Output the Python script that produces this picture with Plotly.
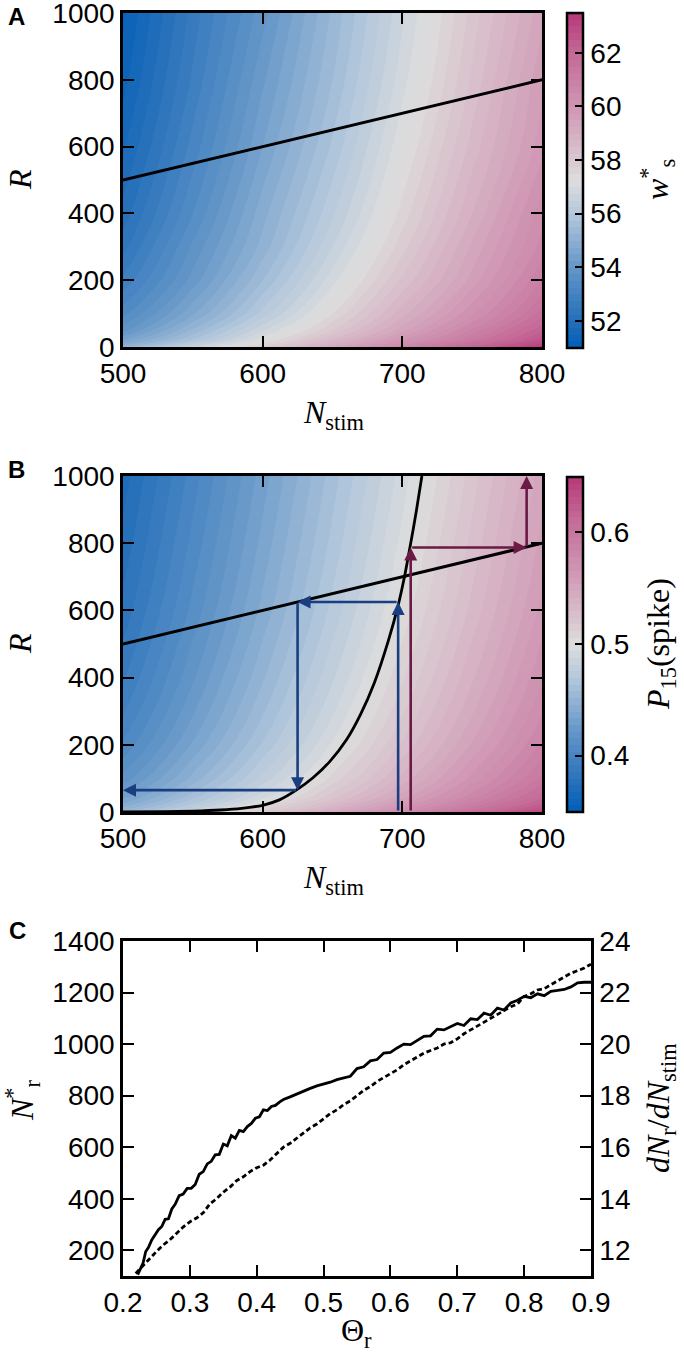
import plotly.graph_objects as go

# ---------------- data ----------------
N_GRID = [500, 550, 600, 650, 700, 750, 800]
R_GRID = [0, 10, 25, 50, 100, 200, 300, 400, 600, 800, 1000]

WS_VALUES = [
    [55.2, 56.6, 57.9, 59.3, 60.7, 62.1, 63.4],
    [54.8, 56.2, 57.5, 58.9, 60.3, 61.7, 63.0],
    [54.4, 55.7, 57.1, 58.5, 59.9, 61.2, 62.6],
    [53.9, 55.3, 56.7, 58.0, 59.4, 60.8, 62.2],
    [53.4, 54.7, 56.1, 57.5, 58.9, 60.2, 61.6],
    [52.8, 54.1, 55.5, 56.9, 58.3, 59.6, 61.0],
    [52.4, 53.8, 55.1, 56.5, 57.9, 59.3, 60.6],
    [52.1, 53.5, 54.9, 56.2, 57.6, 59.0, 60.4],
    [51.7, 53.1, 54.5, 55.8, 57.2, 58.6, 59.9],
    [51.4, 52.8, 54.2, 55.5, 56.9, 58.3, 59.7],
    [51.2, 52.6, 53.9, 55.3, 56.7, 58.1, 59.4],
]

P15_VALUES = [
    [0.458, 0.488, 0.518, 0.548, 0.578, 0.608, 0.638],
    [0.449, 0.479, 0.509, 0.539, 0.569, 0.599, 0.629],
    [0.440, 0.470, 0.500, 0.530, 0.560, 0.590, 0.620],
    [0.430, 0.460, 0.490, 0.520, 0.550, 0.580, 0.610],
    [0.418, 0.448, 0.478, 0.508, 0.538, 0.568, 0.598],
    [0.405, 0.435, 0.465, 0.495, 0.525, 0.555, 0.585],
    [0.397, 0.427, 0.457, 0.487, 0.517, 0.547, 0.577],
    [0.391, 0.421, 0.451, 0.481, 0.511, 0.541, 0.571],
    [0.382, 0.412, 0.442, 0.472, 0.502, 0.532, 0.562],
    [0.376, 0.406, 0.436, 0.466, 0.496, 0.526, 0.556],
    [0.371, 0.401, 0.431, 0.461, 0.491, 0.521, 0.551],
]

WS_TICKS = [52, 54, 56, 58, 60, 62]
P15_TICKS = [0.4, 0.5, 0.6]

LINE_N = [500, 800]
LINE_R = [500, 800]

CURVE_N = [500, 530, 550, 570, 585, 600, 612, 624, 636, 648, 660, 670, 680, 690, 697, 702, 706, 710, 714]
CURVE_R = [0, 0.8, 2.5, 6, 11, 20, 36, 65, 102, 150, 215, 290, 385, 510, 615, 710, 800, 895, 1000]

BLUE_N = [697, 697, 625, 625, 500]
BLUE_R = [0, 625, 625, 65, 65]
MAROON_N = [706, 706, 789, 789]
MAROON_R = [0, 787, 787, 1000]

THETA_SOLID = [0.222, 0.226, 0.230, 0.234, 0.238, 0.243, 0.248, 0.253, 0.258, 0.263, 0.268, 0.273,
               0.278, 0.284, 0.290, 0.296, 0.302, 0.308, 0.314, 0.320, 0.326, 0.332, 0.338, 0.344,
               0.350, 0.356, 0.362, 0.368, 0.374, 0.380, 0.386, 0.392, 0.398, 0.404, 0.410, 0.416,
               0.422, 0.428, 0.434, 0.440, 0.450, 0.460, 0.470, 0.480, 0.490, 0.500, 0.510, 0.520,
               0.530, 0.540, 0.550, 0.560, 0.570, 0.580, 0.590, 0.600, 0.610, 0.620, 0.630, 0.640,
               0.650, 0.660, 0.670, 0.680, 0.690, 0.700, 0.710, 0.720, 0.730, 0.740, 0.750, 0.760,
               0.770, 0.780, 0.790, 0.800, 0.810, 0.820, 0.830, 0.840, 0.850, 0.860, 0.870, 0.880,
               0.890, 0.900]
NR_SOLID = [105, 130, 150, 195, 210, 240, 262, 280, 292, 320, 322, 360,
            378, 412, 418, 440, 440, 455, 495, 505, 535, 545, 570, 572,
            612, 605, 645, 635, 665, 660, 680, 692, 712, 718, 745, 742,
            758, 762, 775, 785, 795, 805, 815, 828, 838, 845, 852, 862,
            870, 875, 905, 912, 935, 940, 965, 968, 985, 1000, 998, 1015,
            1030, 1032, 1058, 1055, 1068, 1080, 1072, 1098, 1095, 1120, 1112, 1140,
            1132, 1160, 1170, 1185, 1180, 1195, 1188, 1205, 1208, 1212, 1222, 1238,
            1240, 1240]

THETA_DASH = [0.219, 0.23, 0.24, 0.25, 0.26, 0.27, 0.28, 0.29, 0.30, 0.31, 0.32, 0.33, 0.34, 0.35,
              0.36, 0.37, 0.38, 0.39, 0.40, 0.41, 0.42, 0.43, 0.44, 0.45, 0.46, 0.47, 0.48, 0.49,
              0.50, 0.51, 0.52, 0.53, 0.54, 0.55, 0.56, 0.57, 0.58, 0.59, 0.60, 0.61, 0.62, 0.63,
              0.64, 0.65, 0.66, 0.67, 0.68, 0.69, 0.70, 0.71, 0.72, 0.73, 0.74, 0.75, 0.76, 0.77,
              0.78, 0.79, 0.80, 0.81, 0.82, 0.83, 0.84, 0.85, 0.86, 0.87, 0.88, 0.89, 0.90]
DNR_DASH = [11.1, 11.4, 11.7, 11.95, 12.2, 12.4, 12.65, 12.9, 13.1, 13.25, 13.45, 13.8, 14.0, 14.25,
            14.45, 14.7, 14.85, 15.05, 15.2, 15.3, 15.5, 15.75, 16.0, 16.15, 16.35, 16.55, 16.75, 16.9,
            17.1, 17.3, 17.45, 17.65, 17.8, 18.0, 18.2, 18.35, 18.55, 18.7, 18.85, 19.0, 19.2, 19.35,
            19.5, 19.65, 19.75, 19.85, 20.0, 20.05, 20.2, 20.4, 20.55, 20.7, 20.85, 21.0, 21.15, 21.3,
            21.45, 21.55, 21.85, 21.95, 22.1, 22.15, 22.3, 22.45, 22.6, 22.75, 22.85, 22.95, 23.1]

# ---------------- style ----------------
W, H = 684, 1357
CS = [
    [0.0, "rgb(0,94,184)"],
    [0.08, "rgb(35,110,186)"],
    [0.24, "rgb(100,150,200)"],
    [0.40, "rgb(180,200,220)"],
    [0.50, "rgb(221,221,221)"],
    [0.56, "rgb(218,200,208)"],
    [0.72, "rgb(208,150,180)"],
    [0.88, "rgb(196,105,150)"],
    [1.0, "rgb(183,55,120)"],
]
TICKFONT = dict(family="Liberation Sans", size=28, color="black")
SERIF = "Liberation Serif"
BLUE = "#1a3f80"
MAROON = "#6b1a45"

def px_x(x):
    return x / W

def px_y(y):
    return 1 - y / H

XD = [px_x(123), px_x(542)]
XD3 = [px_x(123), px_x(591)]
YA = [px_y(347), px_y(13)]
YB = [px_y(812), px_y(476)]
YC = [px_y(1276), px_y(941)]

axis_style = dict(showline=True, linecolor="black", linewidth=2.5, ticks="inside",
                  ticklen=11, tickwidth=1.5, tickcolor="black", tickfont=TICKFONT,
                  showgrid=False, zeroline=False, automargin=False, ticklabeloverflow="allow")

def cbar(ticks, ymid, fmt):
    return dict(x=px_x(567), xanchor="left", xpad=0, y=px_y(ymid), yanchor="middle", ypad=0,
                len=335 / H, lenmode="fraction", thickness=16, outlinewidth=2.5,
                outlinecolor="black", ticks="inside", ticklen=9, tickwidth=1.5,
                tickcolor="black", tickvals=ticks, tickformat=fmt, tickfont=TICKFONT,
                tickprefix="\u00a0")

fig = go.Figure()

fig.add_trace(go.Contour(
    x=N_GRID, y=R_GRID, z=WS_VALUES, colorscale=CS, zmin=51.0, zmax=63.5,
    autocontour=False, contours=dict(start=51.0, end=63.5, size=0.25, coloring="fill"),
    line=dict(width=0, smoothing=1.0), colorbar=cbar(WS_TICKS, 180, "d"),
    xaxis="x", yaxis="y", showlegend=False))
fig.add_trace(go.Scatter(x=LINE_N, y=LINE_R, mode="lines", line=dict(color="black", width=3),
                         xaxis="x", yaxis="y", showlegend=False))

fig.add_trace(go.Contour(
    x=N_GRID, y=R_GRID, z=P15_VALUES, colorscale=CS, zmin=0.35, zmax=0.65,
    autocontour=False, contours=dict(start=0.35, end=0.65, size=0.006, coloring="fill"),
    line=dict(width=0, smoothing=1.0), colorbar=cbar(P15_TICKS, 644, ".1f"),
    xaxis="x2", yaxis="y2", showlegend=False))
fig.add_trace(go.Scatter(x=LINE_N, y=LINE_R, mode="lines", line=dict(color="black", width=3),
                         xaxis="x2", yaxis="y2", showlegend=False))
fig.add_trace(go.Scatter(x=CURVE_N, y=CURVE_R, mode="lines",
                         line=dict(color="black", width=2.8, shape="spline", smoothing=0.8),
                         xaxis="x2", yaxis="y2", showlegend=False))

fig.add_trace(go.Scatter(x=THETA_SOLID, y=NR_SOLID, mode="lines",
                         line=dict(color="black", width=2.8),
                         xaxis="x3", yaxis="y3", showlegend=False))
fig.add_trace(go.Scatter(x=THETA_DASH, y=DNR_DASH, mode="lines",
                         line=dict(color="black", width=2.8, dash="5px,3px"),
                         xaxis="x3", yaxis="y4", showlegend=False))

annotations = []

def arrows(ns, rs, color):
    for i in range(len(ns) - 1):
        annotations.append(dict(x=ns[i + 1], y=rs[i + 1], ax=ns[i], ay=rs[i],
                                xref="x2", yref="y2", axref="x2", ayref="y2",
                                showarrow=True, arrowhead=2, arrowsize=1.0, arrowwidth=2.6,
                                arrowcolor=color, text="", standoff=0, startstandoff=0))

arrows(BLUE_N, BLUE_R, BLUE)
arrows(MAROON_N, MAROON_R, MAROON)

def label(text, x, y, size=32, angle=0, family=SERIF, **kw):
    annotations.append(dict(text=text, x=px_x(x), y=px_y(y), xref="paper", yref="paper",
                            showarrow=False, textangle=angle, xanchor="center", yanchor="middle",
                            font=dict(family=family, size=size, color="black"), **kw))

label("<i>N</i><sub>stim</sub>", 333, 414)
label("<i>N</i><sub>stim</sub>", 333, 880)
label("Θ<sub>r</sub>", 357, 1332)
label("<i>R</i>", 20, 180, angle=-90)
label("<i>R</i>", 20, 644, angle=-90)
label("<i>N</i><sup>*</sup><sub>r</sub>", 22, 1100, angle=-90)
label("<i>dN</i><sub>r</sub>/<i>dN</i><sub>stim</sub>", 660, 1108, angle=-90)
label("<i>w</i><sup>*</sup><sub>s</sub>", 658, 180, angle=-90)
label("<i>P</i><sub>15</sub>(spike)", 660, 644, angle=-90)
label("<b>A</b>", 16, 17, size=24, family="Liberation Sans")
label("<b>B</b>", 16, 469, size=24, family="Liberation Sans")
label("<b>C</b>", 17, 930, size=24, family="Liberation Sans")

fig.update_layout(
    width=W, height=H, margin=dict(l=0, r=0, t=0, b=0, autoexpand=False),
    paper_bgcolor="white", plot_bgcolor="white", showlegend=False,
    annotations=annotations,
    xaxis=dict(domain=XD, anchor="y", range=[500, 800], tickvals=[500, 600, 700, 800], mirror="ticks", **axis_style),
    yaxis=dict(domain=YA, anchor="x", range=[0, 1000], tickvals=[0, 200, 400, 600, 800, 1000], mirror="ticks", **axis_style),
    xaxis2=dict(domain=XD, anchor="y2", range=[500, 800], tickvals=[500, 600, 700, 800], mirror="ticks", **axis_style),
    yaxis2=dict(domain=YB, anchor="x2", range=[0, 1000], tickvals=[0, 200, 400, 600, 800, 1000], mirror="ticks", **axis_style),
    xaxis3=dict(domain=XD3, anchor="y3", range=[0.2, 0.9], tickvals=[0.2, 0.3, 0.4, 0.5, 0.6, 0.7, 0.8, 0.9],
                tickformat=".1f", mirror="ticks", **axis_style),
    yaxis3=dict(domain=YC, anchor="x3", range=[100, 1400], tickvals=[200, 400, 600, 800, 1000, 1200, 1400], **axis_style),
    yaxis4=dict(domain=YC, anchor="x3", overlaying="y3", side="right", range=[11, 24],
                tickvals=[12, 14, 16, 18, 20, 22, 24], **axis_style),
)

fig.write_html("out.html", config={"displayModeBar": False}, post_script=(
    "document.body.style.margin='0';document.body.style.padding='0';"
    "document.documentElement.style.overflow='hidden';"))
